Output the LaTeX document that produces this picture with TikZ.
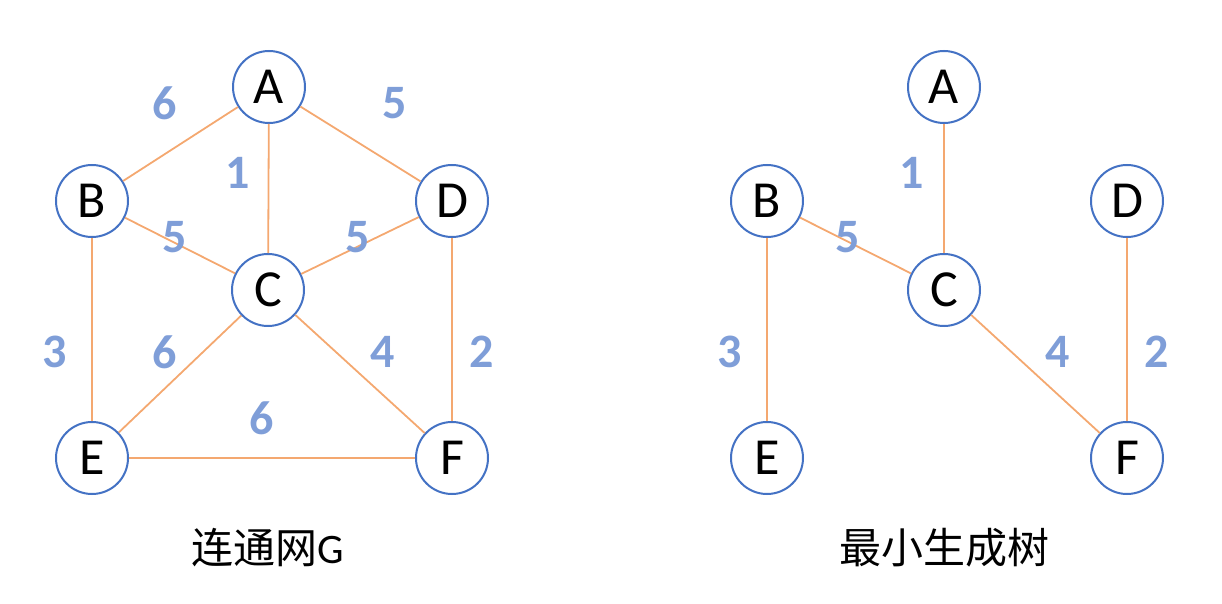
\documentclass[tikz,border=0pt]{standalone}
\usepackage{fontspec}
\setmainfont{Carlito}
\newfontfamily\cjkfont{Noto Sans CJK SC}
\usepackage{tikz}
\usetikzlibrary{positioning}
\definecolor{nodeblue}{HTML}{4472C4}
\definecolor{edgeorange}{HTML}{F4A870}
\definecolor{weightblue}{HTML}{7F9ED8}
\tikzset{
  vertex/.style={circle, draw=nodeblue, line width=1pt, fill=white, minimum size=36pt, inner sep=0pt, font=\fontsize{26}{26}\selectfont},
  edge/.style={draw=edgeorange, line width=0.9pt},
  weight/.style={text=weightblue, font=\fontsize{24}{24}\selectfont\bfseries},
  caption/.style={font=\fontsize{21}{21}\selectfont},
}

\begin{document}
\begin{tikzpicture}[x=0.5pt, y=-0.5pt]
  \useasboundingbox (0,0) rectangle (1222,604);

  % Nodes (connected network)
  \node[vertex] (a) at (269,87) {A};
  \node[vertex] (b) at (92,201) {B};
  \node[vertex] (c) at (268,290) {C};
  \node[vertex] (d) at (452,201) {D};
  \node[vertex] (e) at (92,458) {E};
  \node[vertex] (f) at (452,458) {F};

  % Edges
  \draw[edge] (a) -- (b);
  \draw[edge] (a) -- (d);
  \draw[edge] (a) -- (c);
  \draw[edge] (b) -- (c);
  \draw[edge] (c) -- (d);
  \draw[edge] (b) -- (e);
  \draw[edge] (c) -- (e);
  \draw[edge] (c) -- (f);
  \draw[edge] (d) -- (f);
  \draw[edge] (e) -- (f);

  % Weights
  \node[weight] (wab) at (165,103) {6};
  \node[weight] (wad) at (395,103) {5};
  \node[weight] (wac) at (238,173) {1};
  \node[weight] (wbc) at (175,237) {5};
  \node[weight] (wcd) at (358,237) {5};
  \node[weight] (wbe) at (55,352) {3};
  \node[weight] (wce) at (165,352) {6};
  \node[weight] (wcf) at (383,352) {4};
  \node[weight] (wdf) at (482,352) {2};
  \node[weight] (wef) at (262,418) {6};

  \node[caption] (gname) at (268,548) {{\cjkfont 连通网}G};

  % Nodes (minimum spanning tree)
  \node[vertex] (ta) at (944,87) {A};
  \node[vertex] (tb) at (767,201) {B};
  \node[vertex] (tc) at (944,290) {C};
  \node[vertex] (td) at (1127,201) {D};
  \node[vertex] (te) at (767,458) {E};
  \node[vertex] (tf) at (1127,458) {F};

  % Edges
  \draw[edge] (ta) -- (tc);
  \draw[edge] (tb) -- (tc);
  \draw[edge] (tb) -- (te);
  \draw[edge] (tc) -- (tf);
  \draw[edge] (td) -- (tf);

  % Weights
  \node[weight] (tac) at (912,173) {1};
  \node[weight] (tbc) at (848,237) {5};
  \node[weight] (tbe) at (730,352) {3};
  \node[weight] (tcf) at (1058,352) {4};
  \node[weight] (tdf) at (1157,352) {2};

  \node[caption] (tname) at (944,548) {\cjkfont 最小生成树};

\end{tikzpicture}
\end{document}
